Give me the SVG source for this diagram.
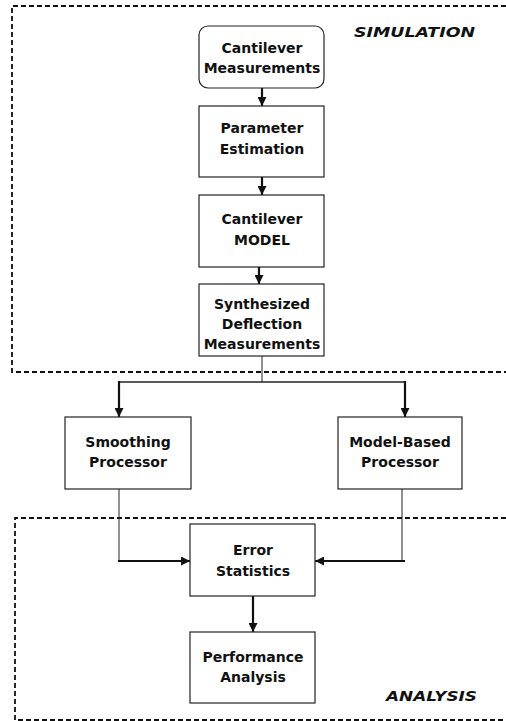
<svg xmlns="http://www.w3.org/2000/svg" width="506" height="721" viewBox="0 0 506 721">
<style>
.box{fill:#fff;stroke:#222;stroke-width:1.2}
.t{font-family:"DejaVu Sans",sans-serif;font-weight:bold;font-size:14px;fill:#111;text-anchor:middle}
.lbl{font-family:"DejaVu Sans",sans-serif;font-weight:bold;font-style:italic;font-size:14px;fill:#111}
.dash{fill:none;stroke:#111;stroke-width:1.8;stroke-dasharray:5 3}
.thin{fill:none;stroke:#222;stroke-width:1}
.thick{fill:none;stroke:#111;stroke-width:2.2}
</style>
<defs>
<marker id="ah" markerWidth="9" markerHeight="9" refX="9" refY="4.5" orient="auto" markerUnits="userSpaceOnUse">
<path d="M0,0 L9,4.5 L0,9 z" fill="#111"/>
</marker>
</defs>
<g id="regions">
<path class="dash" d="M506,6 H12 V372 H506"/>
<path class="dash" d="M506,518 H15 V720 H506"/>
<text class="lbl" x="354" y="37" textLength="121" lengthAdjust="spacingAndGlyphs">SIMULATION</text>
<text class="lbl" x="386" y="701" textLength="91" lengthAdjust="spacingAndGlyphs">ANALYSIS</text>
</g>
<g id="connectors">
<line class="thick" x1="262" y1="88" x2="262" y2="106" marker-end="url(#ah)"/>
<line class="thick" x1="262" y1="177" x2="262" y2="195" marker-end="url(#ah)"/>
<line class="thick" x1="259" y1="267" x2="259" y2="284" marker-end="url(#ah)"/>
<line class="thin" x1="262" y1="356" x2="262" y2="382"/>
<line class="thin" x1="119" y1="382" x2="405" y2="382" style="stroke-width:1.4"/>
<line class="thick" x1="119" y1="381" x2="119" y2="417" marker-end="url(#ah)"/>
<line class="thick" x1="405" y1="381" x2="405" y2="417" marker-end="url(#ah)"/>
<line class="thin" x1="119" y1="489" x2="119" y2="561"/>
<line class="thick" x1="118" y1="561" x2="190" y2="561" marker-end="url(#ah)"/>
<line class="thin" x1="402" y1="489" x2="402" y2="561"/>
<line class="thick" x1="405" y1="561" x2="315" y2="561" marker-end="url(#ah)"/>
<line class="thick" x1="253" y1="596" x2="253" y2="632" marker-end="url(#ah)"/>
</g>
<g id="cantilever-measurements">
<rect class="box" x="199" y="26" width="125" height="62" rx="9"/>
<text class="t" x="262" y="53">Cantilever</text>
<text class="t" x="262" y="73">Measurements</text>
</g>
<g id="parameter-estimation">
<rect class="box" x="199" y="106" width="125" height="71"/>
<text class="t" x="262" y="133">Parameter</text>
<text class="t" x="262" y="154">Estimation</text>
</g>
<g id="cantilever-model">
<rect class="box" x="199" y="195" width="125" height="72"/>
<text class="t" x="262" y="224">Cantilever</text>
<text class="t" x="262" y="245">MODEL</text>
</g>
<g id="synthesized">
<rect class="box" x="199" y="284" width="125" height="72"/>
<text class="t" x="262" y="309">Synthesized</text>
<text class="t" x="262" y="329">Deflection</text>
<text class="t" x="262" y="349">Measurements</text>
</g>
<g id="smoothing">
<rect class="box" x="65" y="417" width="126" height="72"/>
<text class="t" x="128" y="447">Smoothing</text>
<text class="t" x="128" y="467">Processor</text>
</g>
<g id="model-based">
<rect class="box" x="338" y="417" width="124" height="72"/>
<text class="t" x="400" y="447">Model-Based</text>
<text class="t" x="400" y="467">Processor</text>
</g>
<g id="error-statistics">
<rect class="box" x="190" y="524" width="125" height="72"/>
<text class="t" x="253" y="555">Error</text>
<text class="t" x="253" y="576">Statistics</text>
</g>
<g id="performance-analysis">
<rect class="box" x="190" y="632" width="125" height="71"/>
<text class="t" x="253" y="662">Performance</text>
<text class="t" x="253" y="682">Analysis</text>
</g>
</svg>
